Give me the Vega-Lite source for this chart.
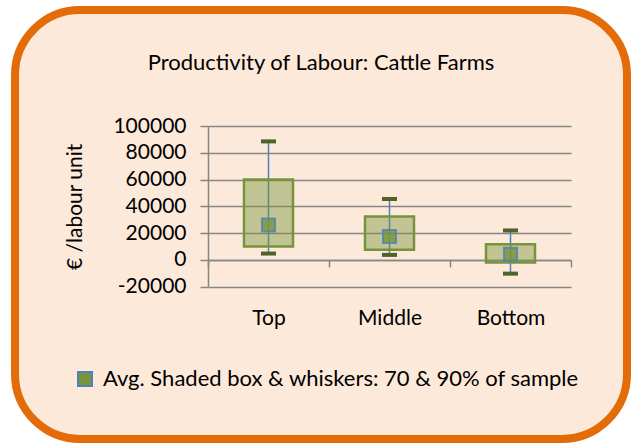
{
  "$schema": "https://vega.github.io/schema/vega-lite/v6.json",
  "width": 612,
  "height": 429,
  "autosize": {"type": "none"},
  "padding": {"left": 15, "top": 10, "right": 6, "bottom": 4},
  "background": "white",
  "title": {
    "text": "Productivity of Labour: Cattle Farms",
    "font": "Lato",
    "fontSize": 22,
    "fontWeight": "normal",
    "color": "black",
    "frame": "group",
    "anchor": "middle",
    "baseline": "middle",
    "offset": -75
  },
  "config": {
    "font": "Lato",
    "view": {"fill": "#FDE9D9", "stroke": "#E36C09", "strokeWidth": 8, "cornerRadius": 65}
  },
  "data": {
    "values": [
      {"group": "Top", "lo": 4750, "q1": 10000, "q3": 60000, "hi": 88500, "avg": 26000, "series": "Avg. Shaded box & whiskers: 70 & 90% of sample"},
      {"group": "Middle", "lo": 3750, "q1": 7500, "q3": 32500, "hi": 45500, "avg": 17500, "series": "Avg. Shaded box & whiskers: 70 & 90% of sample"},
      {"group": "Bottom", "lo": -10250, "q1": -2000, "q3": 11750, "hi": 22000, "avg": 4250, "series": "Avg. Shaded box & whiskers: 70 & 90% of sample"}
    ]
  },
  "encoding": {
    "x": {
      "field": "group",
      "type": "nominal",
      "sort": ["Top", "Middle", "Bottom"],
      "scale": {"range": [193, 556], "paddingInner": 0, "paddingOuter": 0},
      "axis": {
        "title": null,
        "orient": "bottom",
        "offset": -179,
        "grid": false,
        "domainColor": "#868686",
        "domainWidth": 1.5,
        "tickColor": "#868686",
        "tickWidth": 1.5,
        "tickSize": 7,
        "tickBand": "extent",
        "labelFont": "Lato",
        "labelFontSize": 21,
        "labelColor": "black",
        "labelPadding": 40,
        "labelAngle": 0
      }
    }
  },
  "layer": [
    {
      "mark": {"type": "rule", "color": "#4F81BD", "strokeWidth": 1.5},
      "encoding": {
        "y": {
          "field": "lo",
          "type": "quantitative",
          "scale": {"domain": [-20000, 100000], "range": [276.7, 116], "nice": false, "zero": false},
          "axis": {
            "values": [-20000, 0, 20000, 40000, 60000, 80000, 100000],
            "labelExpr": "'' + datum.value",
            "offset": -193,
            "grid": true,
            "gridColor": "#868686",
            "gridWidth": 1.5,
            "domainColor": "#868686",
            "domainWidth": 1.5,
            "tickColor": "#868686",
            "tickWidth": 1.5,
            "tickSize": 8,
            "labelFont": "Lato",
            "labelFontSize": 21,
            "labelColor": "black",
            "labelPadding": 14,
            "title": "€ /labour unit",
            "titleFont": "Lato",
            "titleFontSize": 21,
            "titleFontWeight": "normal",
            "titleColor": "black",
            "titlePadding": 27
          }
        },
        "y2": {"field": "hi"}
      }
    },
    {
      "mark": {"type": "bar", "width": 49, "fill": "#77933C", "fillOpacity": 0.44, "stroke": "#77933C", "strokeWidth": 2.5},
      "encoding": {
        "y": {"field": "q1", "type": "quantitative"},
        "y2": {"field": "q3"}
      }
    },
    {
      "mark": {"type": "tick", "size": 15, "thickness": 4, "color": "#4F6228", "opacity": 1},
      "encoding": {
        "y": {"field": "lo", "type": "quantitative"}
      }
    },
    {
      "mark": {"type": "tick", "size": 15, "thickness": 4, "color": "#4F6228", "opacity": 1},
      "encoding": {
        "y": {"field": "hi", "type": "quantitative"}
      }
    },
    {
      "mark": {"type": "point", "shape": "square", "filled": true, "size": 170, "stroke": "#4F81BD", "strokeWidth": 2, "fillOpacity": 0.8, "strokeOpacity": 0.8},
      "encoding": {
        "y": {"field": "avg", "type": "quantitative"},
        "fill": {
          "field": "series",
          "type": "nominal",
          "scale": {"range": ["#77933C"]},
          "legend": {
            "orient": "none",
            "legendX": 59,
            "legendY": 358,
            "padding": 0,
            "title": null,
            "labelFont": "Lato",
            "labelFontSize": 22,
            "labelColor": "black",
            "labelLimit": 0,
            "labelOffset": 7,
            "symbolType": "square",
            "symbolSize": 196,
            "symbolStrokeColor": "#4F81BD",
            "symbolStrokeWidth": 2,
            "symbolFillColor": "#77933C",
            "symbolOpacity": 1
          }
        }
      }
    }
  ]
}
